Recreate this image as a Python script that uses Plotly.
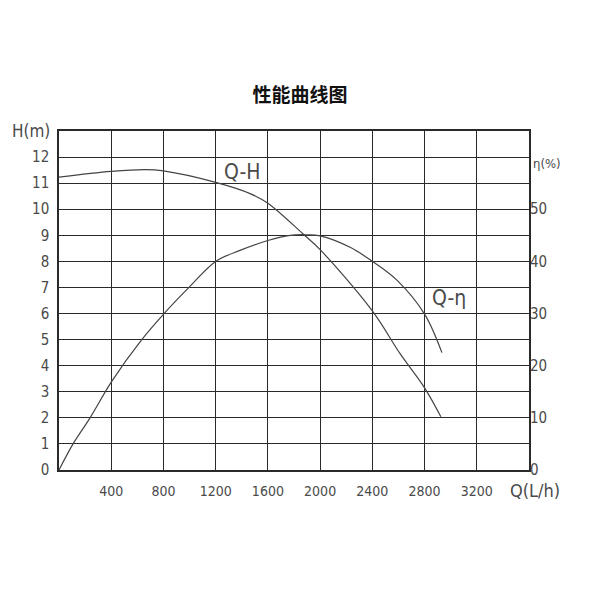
import plotly.graph_objects as go

# Data
q_h = [0, 400, 660, 800, 1200, 1464, 1600, 1872, 2000, 2400, 2614, 2800, 2925]
h_vals = [11.23, 11.45, 11.52, 11.47, 11.03, 10.6, 10.23, 9.04, 8.45, 6.1, 4.45, 3.15, 2.04]

q_eta = [0, 110, 238, 404, 634, 805, 1003, 1200, 1386, 1600, 1770, 1900, 2000, 2230, 2400, 2588, 2800, 2933]
eta_vals = [0, 5.1, 10.0, 17.0, 25.0, 30.0, 35.2, 40.0, 42.1, 44.0, 45.0, 45.1, 44.9, 42.7, 40.0, 36.4, 29.9, 22.5]

x_ticks = [400, 800, 1200, 1600, 2000, 2400, 2800, 3200]
h_ticks = list(range(0, 13))
eta_ticks = [0, 10, 20, 30, 40, 50]

FONT = "Liberation Sans Narrow, DejaVu Sans Condensed, Liberation Sans, sans-serif"
TXT = "#4a4a4a"
GRID = "#2a2a2a"

fig = go.Figure()
fig.add_trace(go.Scatter(x=q_h, y=h_vals, mode="lines",
                         line=dict(color="#444", width=1.2, shape="spline", smoothing=1.0),
                         showlegend=False, hoverinfo="skip"))
fig.add_trace(go.Scatter(x=q_eta, y=eta_vals, mode="lines",
                         line=dict(color="#444", width=1.2, shape="spline", smoothing=1.0),
                         yaxis="y2", showlegend=False, hoverinfo="skip"))

fig.update_layout(
    width=600, height=600,
    paper_bgcolor="white", plot_bgcolor="white",
    margin=dict(l=51, r=79, t=123, b=138, autoexpand=False),
    font=dict(family=FONT, color=TXT, size=14),
    title=dict(text="<b>性能曲线图</b>", x=(300 - 8) / 600, xanchor="center", y=1 - 87 / 600, yanchor="middle",
               font=dict(family="Noto Sans CJK SC", size=19, color="#111")),
    xaxis=dict(range=[0, 3600], tickvals=x_ticks, ticktext=[str(v) for v in x_ticks],
               showgrid=True, gridcolor=GRID, gridwidth=1.3, zeroline=False,
               showline=True, linecolor=GRID, linewidth=1.5, mirror=True, ticks="", ticklen=0,
               ticklabelstandoff=7, tickfont=dict(size=14, color=TXT)),
    yaxis=dict(range=[0, 13], tickvals=h_ticks, ticktext=[str(v) for v in h_ticks],
               showgrid=True, gridcolor=GRID, gridwidth=1.3, zeroline=False,
               showline=True, linecolor=GRID, linewidth=1.5, mirror=True, ticks="",
               ticklabelstandoff=5, tickfont=dict(size=15, color=TXT)),
    yaxis2=dict(range=[0, 65], overlaying="y", side="right", tickvals=eta_ticks,
                ticktext=[str(v) for v in eta_ticks], showgrid=False, zeroline=False,
                showline=False, ticks="", tickfont=dict(size=15, color=TXT)),
    annotations=[
        dict(text="H(m)", xref="paper", yref="paper", x=-0.015, y=1.0, xanchor="right", yanchor="middle",
             showarrow=False, font=dict(size=17, color=TXT)),
        dict(text="Q(L/h)", xref="paper", yref="paper", x=0.955, y=-0.06, xanchor="left", yanchor="middle",
             showarrow=False, font=dict(size=18, color=TXT)),
        dict(text="η(%)", xref="paper", yref="y", x=1.005, y=11.75, xanchor="left", yanchor="middle",
             showarrow=False, font=dict(size=13, color=TXT)),
        dict(text="Q-H", x=1402, y=11.43, xref="x", yref="y", showarrow=False,
             font=dict(size=21, color=TXT)),
        dict(text="Q-η", x=2987, y=6.6, xref="x", yref="y", showarrow=False,
             font=dict(size=21, color=TXT)),
    ],
)

fig.write_html("out.html")
